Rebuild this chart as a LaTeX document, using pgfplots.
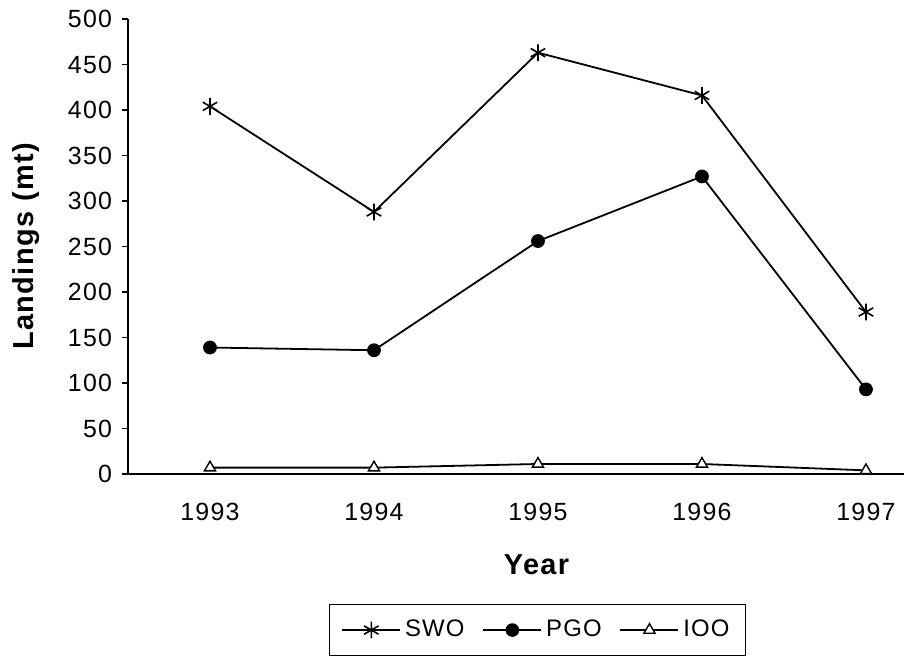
\documentclass[border=0pt]{standalone}
\usepackage{fontspec}
\setmainfont[LetterSpace=5]{Liberation Sans}
\usepackage{pgfplots}
\pgfplotsset{compat=1.18}

\begin{document}
\begin{tikzpicture}
\useasboundingbox (0,0) rectangle (452bp,328bp);
\begin{axis}[
    at={(64bp,91bp)}, anchor=south west,
    scale only axis,
    width=388bp, height=227.5bp,
    xmin=1992.5, xmax=1997.232,
    ymin=0, ymax=500,
    axis x line*=bottom, axis y line*=left,
    axis line style={line width=0.9pt, -},
    xtick={1993,1994,1995,1996,1997},
    xtick style={draw=none},
    extra x ticks={1992.5,1993.5,1994.5,1995.5,1996.5},
    extra x tick labels={},
    extra x tick style={major tick length=4bp, tick style={draw=black, line width=0.9pt}},
    ytick={0,50,...,500},
    tick align=outside,
    major tick length=3bp,
    ytick style={line width=0.9pt, black},
    /pgf/number format/1000 sep=,
    /pgf/number format/assume math mode=true,
    tick label style={font=\fontsize{12.5}{14}\selectfont},
    xticklabel style={yshift=-8bp},
    yticklabel style={xshift=-1.5bp},
    xlabel={Year},
    ylabel={Landings (mt)},
    label style={font=\fontsize{14.5}{17}\selectfont\bfseries},
    xlabel style={at={(axis description cs:0.5265,-0.2)}, anchor=center},
    ylabel style={at={(axis description cs:-0.1314,0.5)}, anchor=center, rotate=0},
    legend columns=3,
    legend style={at={(axis description cs:0.5277,-0.343)}, anchor=center,
        draw=black, line width=0.6pt, font=\fontsize{12}{14}\selectfont,
        /tikz/every even column/.append style={column sep=7bp},
        inner xsep=6bp, inner ysep=6bp},
    legend image code/.code={
        \draw[mark repeat=2, mark phase=2] plot coordinates {(0bp,0bp) (14.5bp,0bp) (29bp,0bp)};},
    legend image post style={line width=0.8pt},
    every axis plot/.append style={line width=0.9pt, black},
]
\addplot[mark=asterisk, mark size=4.2bp, mark options={line width=0.8pt}] coordinates {
    (1993,404) (1994,288) (1995,463) (1996,416) (1997,178)};
\addplot[mark=*, mark size=3bp] coordinates {
    (1993,139) (1994,136) (1995,256) (1996,327) (1997,93)};
\addplot[mark=triangle*, mark size=3.2bp, mark options={fill=white, line width=0.7pt}] coordinates {
    (1993,7) (1994,7) (1995,11) (1996,11) (1997,4)};
\legend{SWO,PGO,IOO}
\end{axis}
\end{tikzpicture}
\end{document}
